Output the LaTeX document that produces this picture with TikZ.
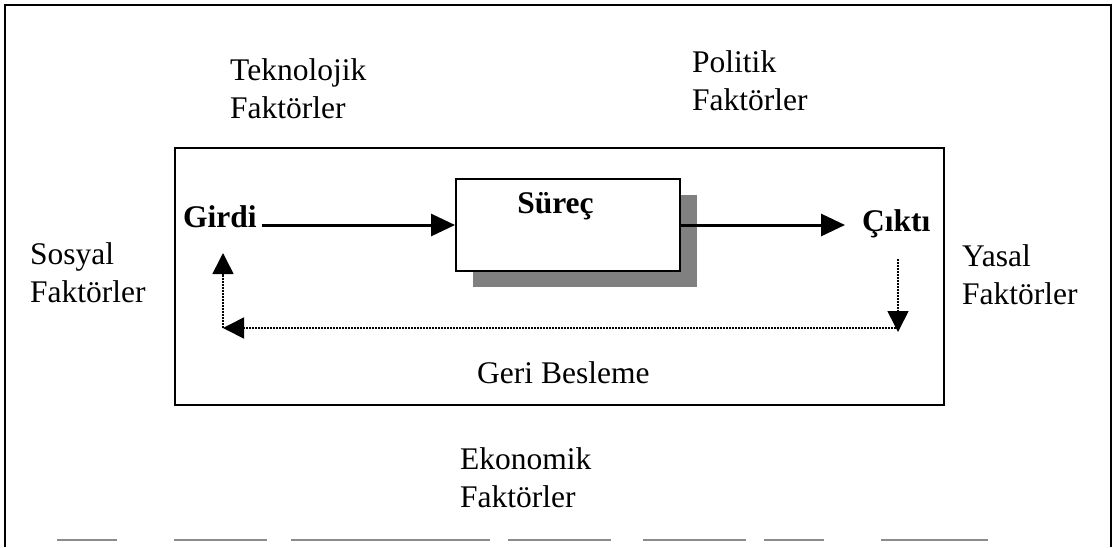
\documentclass[tikz,border=0pt]{standalone}
\usepackage{fontspec}
\setmainfont{Liberation Serif}
\usetikzlibrary{arrows.meta}
\tikzset{
  lbl/.style={inner sep=0pt, anchor=base west, align=left, font=\fontsize{31.5}{38}\selectfont},
  blbl/.style={inner sep=0pt, anchor=base west, font=\fontsize{31.5}{38}\selectfont\bfseries},
  frame/.style={line width=2pt},
  flow/.style={line width=3pt, -{Triangle[length=24pt,width=22pt]}},
  fb/.style={line width=1.6pt, dash pattern=on 1.6pt off 1.4pt, -{Triangle[length=21pt,width=21pt]}},
  shade/.style={fill=black!50},
}
\begin{document}
\begin{tikzpicture}[x=1pt,y=-1pt]
\useasboundingbox (0,0) rectangle (1113,547);
% outer frame
\draw[frame] (5,547) -- (5,5) -- (1111,5) -- (1111,547);
\foreach \a/\b in {57/117,174/267,291/490,508/611,643/746,764/824,881/988}
  \draw[line width=2pt, black!45] (\a,540) -- (\b,540);
% inner system box
\draw[frame] (175,148) rectangle (944,405);
% process box with shadow
\fill[shade] (473,195) rectangle (697,287);
\node[draw, fill=white, line width=2pt, minimum width=224pt, minimum height=92pt, inner sep=0pt] (surec) at (568,225) {};
\node[blbl, anchor=base] (sureclbl) at (555.5,213) {Süreç};
% labels (base anchor = baseline of last line)
\node[blbl] (girdi) at (183,227) {Girdi};
\node[blbl] (cikti) at (862,231) {Çıktı};
\node[lbl] (tek) at (230,118) {Teknolojik\\Faktörler};
\node[lbl] (pol) at (692,110) {Politik\\Faktörler};
\node[lbl] (sos) at (30,302) {Sosyal\\Faktörler};
\node[lbl] (yas) at (962,304) {Yasal\\Faktörler};
\node[lbl] (geri) at (477,383) {Geri Besleme};
\node[lbl] (eko) at (460,507) {Ekonomik\\Faktörler};
% main flow
\draw[flow] ([xshift=5pt]girdi.east |- surec.west) -- (surec.west);
\draw[flow] (surec.east) -- ([xshift=-17pt]cikti.west |- surec.east);
% feedback loop
\coordinate (fbtop) at (898,259);
\coordinate (fbbot) at (898,332);
\coordinate (fbr) at (896,328);
\coordinate (fbl) at (223,328);
\coordinate (fbup) at (223,253);
\draw[fb] (fbtop) -- (fbbot);
\draw[fb] (fbr) -- (fbl);
\draw[fb] (fbl) -- (fbup);
\end{tikzpicture}
\end{document}
